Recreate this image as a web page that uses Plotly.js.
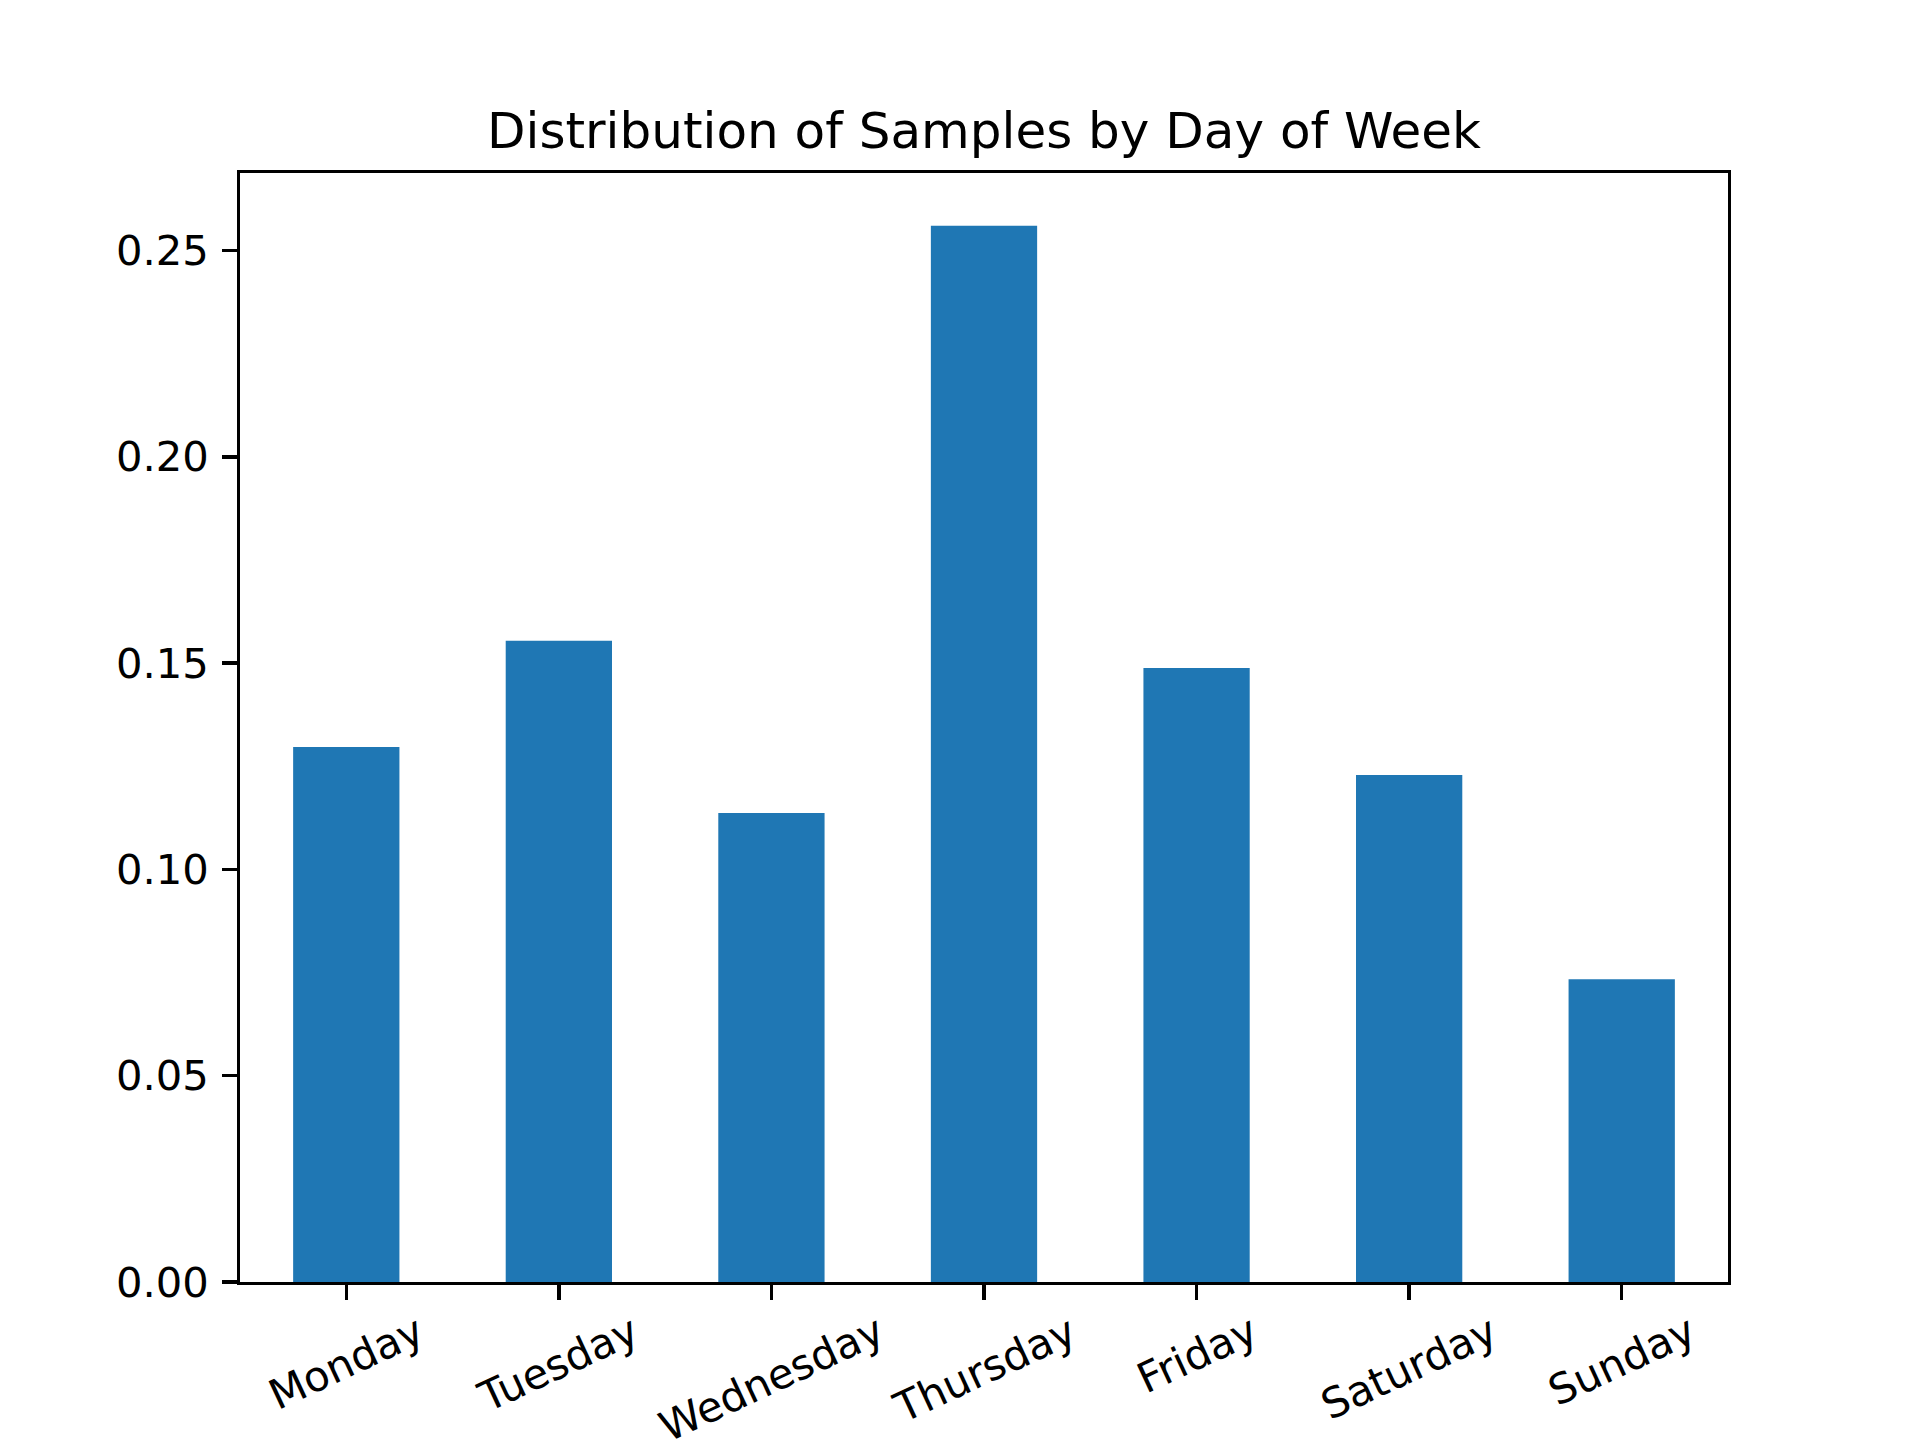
<!DOCTYPE html>
<html>
<head>
<meta charset="utf-8">
<script src="https://cdn.plot.ly/plotly-3.0.1.min.js"></script>
<style>
  body { margin: 0; background: #fff; }
  #chart { width: 1920px; height: 1440px; }
</style>
</head>
<body>
<div id="chart"></div>
<script>
// share of samples per weekday
const days = ['Monday', 'Tuesday', 'Wednesday', 'Thursday', 'Friday', 'Saturday', 'Sunday'];
const shares = [0.1297, 0.1554, 0.1137, 0.2560, 0.1488, 0.1229, 0.0734];
const yTicks = [0, 0.05, 0.10, 0.15, 0.20, 0.25];

const font = 'DejaVu Sans, sans-serif';

const trace = {
  x: days,
  y: shares,
  type: 'bar',
  width: 0.5,
  marker: {color: '#1f77b4', line: {width: 0}},
  hoverinfo: 'skip'
};

// rotated day labels, centred under each tick like matplotlib does
const dayLabels = days.map(d => ({
  x: d, xref: 'x',
  y: 0, yref: 'paper',
  text: d,
  showarrow: false,
  textangle: -25,
  xanchor: 'center',
  yanchor: 'top',
  yshift: -21,
  font: {family: font, size: 41.7, color: '#000'}
}));

const layout = {
  width: 1920,
  height: 1440,
  margin: {l: 240, r: 192, t: 173, b: 158, pad: 0},
  paper_bgcolor: '#fff',
  plot_bgcolor: '#fff',
  showlegend: false,
  font: {family: font, size: 41.7, color: '#000'},
  title: {
    text: 'Distribution of Samples by Day of Week',
    font: {family: font, size: 50, color: '#000'},
    x: 0.5, xref: 'paper', xanchor: 'center',
    y: 1 - 148 / 1440, yref: 'container', yanchor: 'bottom'
  },
  xaxis: {
    type: 'category',
    range: [-0.5, 6.5],
    showticklabels: false,
    ticks: 'outside', ticklen: 14.6, tickwidth: 3.3, tickcolor: '#000',
    showline: true, linewidth: 3.3, linecolor: '#000', mirror: true,
    showgrid: false, zeroline: false, fixedrange: true
  },
  yaxis: {
    range: [0, 0.2688],
    tickvals: yTicks,
    tickformat: '.2f',
    ticks: 'outside', ticklen: 14.6, tickwidth: 3.3, tickcolor: '#000',
    ticklabelstandoff: 5,
    tickfont: {family: font, size: 41.7, color: '#000'},
    showline: true, linewidth: 3.3, linecolor: '#000', mirror: true,
    showgrid: false, zeroline: false, fixedrange: true
  },
  annotations: dayLabels
};

Plotly.newPlot('chart', [trace], layout, {staticPlot: true});
</script>
</body>
</html>
